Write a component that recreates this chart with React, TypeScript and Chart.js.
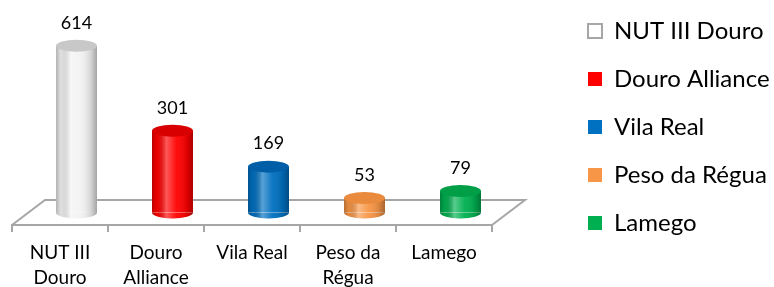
import React, { useEffect, useRef } from 'react';
import { Chart, registerables } from 'chart.js';

Chart.register(...registerables);

// ---- data ----
const categories = ['NUT III Douro', 'Douro Alliance', 'Vila Real', 'Peso da Régua', 'Lamego'];
const tickLabels: (string | string[])[] = [['NUT III', 'Douro'], ['Douro', 'Alliance'], 'Vila Real', ['Peso da', 'Régua'], 'Lamego'];
const values = [614, 301, 169, 53, 79];
const yMax = 700;

// ---- styles ----
const barColors = ['#f2f2f2', '#ff0000', '#0070c0', '#f79646', '#00b050'];
const capColors = ['#c8c8c8', '#d80000', '#005ea6', '#ea8a3c', '#009e46'];
const legendFill = ['#ffffff', '#ff0000', '#0070c0', '#f79646', '#00b050'];
const legendStroke = ['#a6a6a6', '#ff0000', '#0070c0', '#f79646', '#00b050'];
const legendLine = [2, 0, 0, 0, 0];

const W = 774;
const H = 287;
const FONT = 'Lato';
const PLOT_LEFT = 12;
const PLOT_RIGHT = 492;
const PLOT_TOP = 35;
const PLOT_BOTTOM = 225;
const TOP_PAD = -5;
const DX = 33;
const DY = 25;
const CAP_RY = 6;
const FLOOR = '#a6a6a6';
const LEG_SIZE = 24;
const LEG_PAD = 24;
const LEG_BOX = 14;
const LEG_TEXT_LEFT = 614;
const TICK_SIZE = 19;
const LABEL_SIZE = 18;

const cylinderPlugin = {
  id: 'cyl3d',
  beforeDatasetsDraw(chart: any) {
    const { ctx, chartArea: a } = chart;
    ctx.save();
    ctx.strokeStyle = FLOOR;
    ctx.lineWidth = 2;
    ctx.beginPath();
    ctx.moveTo(a.left, a.bottom);
    ctx.lineTo(a.left + DX, a.bottom - DY);
    ctx.lineTo(a.right + DX, a.bottom - DY);
    ctx.lineTo(a.right, a.bottom);
    ctx.stroke();
    ctx.restore();
    ctx.save();
    ctx.translate(DX / 2, -DY / 2);
  },
  afterDatasetsDraw(chart: any) {
    const ctx = chart.ctx;
    const meta = chart.getDatasetMeta(0);
    const data = chart.data.datasets[0].data;
    meta.data.forEach((el: any, i: number) => {
      const { x, y, base, width } = el.getProps(['x', 'y', 'base', 'width'], true);
      const hw = width / 2;
      // bottom half of the cylinder base
      ctx.beginPath();
      ctx.ellipse(x, base, hw, CAP_RY, 0, 0, Math.PI);
      ctx.fillStyle = barColors[i];
      ctx.fill();
      // cylindrical shading
      const g = ctx.createLinearGradient(x - hw, 0, x + hw, 0);
      g.addColorStop(0, 'rgba(0,0,0,0.26)');
      g.addColorStop(0.12, 'rgba(0,0,0,0.07)');
      g.addColorStop(0.35, 'rgba(255,255,255,0.35)');
      g.addColorStop(0.6, 'rgba(255,255,255,0.05)');
      g.addColorStop(0.85, 'rgba(0,0,0,0.12)');
      g.addColorStop(1, 'rgba(0,0,0,0.32)');
      ctx.beginPath();
      ctx.moveTo(x - hw, y);
      ctx.lineTo(x - hw, base);
      ctx.ellipse(x, base, hw, CAP_RY, 0, Math.PI, 0, true);
      ctx.lineTo(x + hw, y);
      ctx.closePath();
      ctx.fillStyle = g;
      ctx.fill();
      // top cap
      ctx.beginPath();
      ctx.ellipse(x, y, hw, CAP_RY, 0, 0, Math.PI * 2);
      ctx.fillStyle = capColors[i];
      ctx.fill();
      // value label
      ctx.fillStyle = '#000';
      ctx.font = `${LABEL_SIZE}px ${FONT}`;
      ctx.textAlign = 'center';
      ctx.textBaseline = 'middle';
      ctx.fillText(String(data[i]), x, y - 23);
    });
    ctx.restore();
  },
};

export default function App() {
  const ref = useRef<HTMLCanvasElement | null>(null);

  useEffect(() => {
    const canvas = ref.current;
    if (!canvas) return;
    const legendLeft = LEG_TEXT_LEFT - LEG_PAD - LEG_BOX - LEG_SIZE / 2;
    const padding = { top: TOP_PAD, left: PLOT_LEFT, right: 0, bottom: 0 };

    const chart = new Chart(canvas, {
      type: 'bar',
      data: {
        labels: tickLabels as any,
        datasets: [
          {
            label: 'Total',
            data: values,
            backgroundColor: barColors,
            borderWidth: 0,
            barPercentage: 41 / 96,
            categoryPercentage: 1,
          },
        ],
      },
      options: {
        responsive: false,
        animation: false,
        devicePixelRatio: 1,
        layout: { padding },
        scales: {
          x: {
            position: 'bottom',
            grid: {
              display: true,
              drawOnChartArea: false,
              drawTicks: true,
              tickLength: 7,
              color: FLOOR,
              lineWidth: 2,
              offset: true,
            },
            border: { display: true, color: FLOOR, width: 2 },
            ticks: {
              color: '#000',
              padding: 8,
              autoSkip: false,
              maxRotation: 0,
              font: { family: FONT, size: TICK_SIZE, lineHeight: '25px' },
            },
            afterFit(s: any) {
              s.height = H - PLOT_BOTTOM;
            },
          },
          xTop: {
            type: 'category',
            position: 'top',
            display: false,
            afterFit(s: any) {
              s.height = PLOT_TOP - TOP_PAD;
            },
          },
          y: {
            display: false,
            min: 0,
            max: yMax,
          },
          y2: {
            type: 'linear',
            position: 'right',
            display: false,
            afterFit(s: any) {
              s.width = legendLeft - PLOT_RIGHT;
            },
          },
        },
        plugins: {
          tooltip: { enabled: false },
          title: { display: false },
          legend: {
            display: true,
            position: 'right',
            align: 'start',
            onClick: () => {},
            labels: {
              boxWidth: LEG_BOX,
              boxHeight: LEG_BOX,
              padding: LEG_PAD,
              color: '#000',
              font: { family: FONT, size: LEG_SIZE },
              generateLabels: () =>
                categories.map((c, i) => ({
                  text: c,
                  fillStyle: legendFill[i],
                  strokeStyle: legendStroke[i],
                  lineWidth: legendLine[i],
                  hidden: false,
                  index: i,
                  datasetIndex: 0,
                  fontColor: '#000',
                })),
            },
          },
        },
      } as any,
      plugins: [cylinderPlugin],
    });

    // settle the legend so its text starts at LEG_TEXT_LEFT
    for (let k = 0; k < 4; k++) {
      const lg: any = (chart as any).legend;
      if (!lg) break;
      const d = lg.left - legendLeft;
      if (Math.abs(d) < 0.25) break;
      (chart.options as any).layout.padding.right += d;
      chart.update('none');
    }

    return () => chart.destroy();
  }, []);

  return (
    <div style={{ position: 'fixed', left: 0, top: 0, width: W, height: H, background: '#fff' }}>
      <canvas ref={ref} width={W} height={H} style={{ display: 'block' }} />
    </div>
  );
}
